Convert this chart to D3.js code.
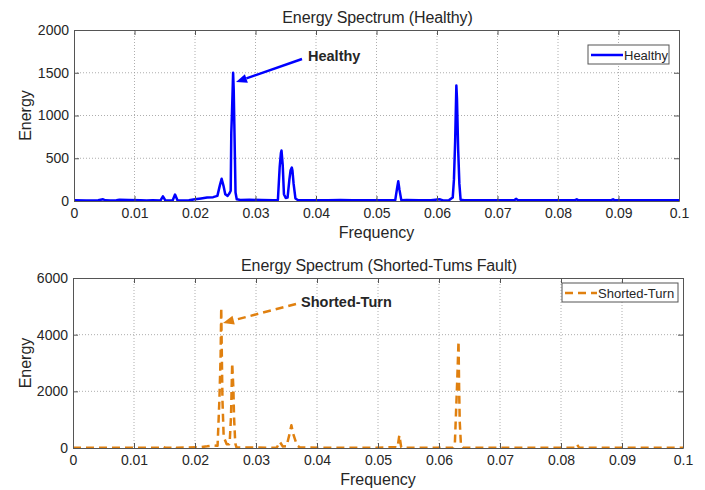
<!DOCTYPE html>
<html>
<head>
<meta charset="utf-8">
<script src="https://cdn.jsdelivr.net/npm/d3@7/dist/d3.min.js"></script>
<style>
  body { margin: 0; background: #fff; }
  svg text { font-family: "Liberation Sans", Arial, sans-serif; fill: #262626; }
</style>
</head>
<body>
<svg id="chart" width="705" height="490"></svg>
<script>
// healthy spectrum
var healthyFreq = [0, 0.002, 0.004, 0.0048, 0.0052, 0.006, 0.007, 0.0075, 0.009, 0.011, 0.012, 0.013,
  0.0143, 0.0147, 0.0151, 0.0163, 0.0167, 0.0171, 0.018, 0.019, 0.020, 0.021, 0.022, 0.023,
  0.0237, 0.0241, 0.0244, 0.0247, 0.0250, 0.0254, 0.0257, 0.0259, 0.0260, 0.0261, 0.0262, 0.0263,
  0.0264, 0.0265, 0.0266, 0.0267, 0.0269, 0.0275, 0.029, 0.031, 0.033, 0.0337, 0.0340, 0.0342,
  0.0343, 0.0345, 0.0347, 0.0350, 0.0353, 0.0356, 0.0358, 0.0360, 0.0361, 0.0363, 0.0366, 0.0370,
  0.038, 0.040, 0.042, 0.044, 0.046, 0.048, 0.050, 0.052, 0.0531, 0.0534, 0.0536, 0.0538, 0.0541,
  0.055, 0.057, 0.059, 0.0605, 0.061, 0.062, 0.0626, 0.0628, 0.0630, 0.0632, 0.0633, 0.0635,
  0.0637, 0.0639, 0.0645, 0.066, 0.068, 0.070, 0.0728, 0.0731, 0.0734, 0.075, 0.078, 0.080,
  0.0828, 0.0831, 0.0834, 0.085, 0.087, 0.0888, 0.0891, 0.0894, 0.092, 0.095, 0.1];
var healthyEnergy = [8, 6, 8, 20, 8, 6, 10, 14, 12, 10, 6, 8,
  6, 55, 6, 6, 75, 8, 5, 8, 20, 30, 40, 45,
  60, 180, 260, 180, 80, 60, 90, 120, 800, 1000, 1250, 1500,
  1300, 900, 500, 100, 20, 12, 14, 12, 10, 12, 400, 560,
  590, 420, 80, 35, 40, 250, 360, 390, 360, 200, 30, 12,
  8, 10, 8, 12, 8, 10, 8, 10, 10, 150, 230, 130, 10,
  12, 8, 10, 20, 6, 10, 40, 250, 700, 1350, 1200, 600,
  200, 15, 10, 8, 10, 8, 10, 25, 8, 10, 8, 10,
  10, 20, 8, 10, 8, 10, 20, 8, 10, 8, 8];

// shorted-turn spectrum
var faultFreq = [0, 0.004, 0.008, 0.012, 0.0143, 0.0147, 0.0151, 0.0162, 0.0166, 0.0170, 0.019, 0.021,
  0.022, 0.023, 0.0235, 0.0237, 0.0240, 0.0242, 0.0243, 0.0244, 0.0245, 0.0247, 0.0252, 0.0256,
  0.0257, 0.0259, 0.0261, 0.0263, 0.0264, 0.0266, 0.0268, 0.030, 0.0334, 0.0339, 0.0344, 0.0350,
  0.0355, 0.0358, 0.0361, 0.0367, 0.0372, 0.045, 0.050, 0.0528, 0.0532, 0.0535, 0.0538, 0.0542,
  0.058, 0.0623, 0.0626, 0.0628, 0.0630, 0.0632, 0.0633, 0.0634, 0.0636, 0.0640, 0.070, 0.078,
  0.0822, 0.0826, 0.0830, 0.090, 0.1];
var faultEnergy = [10, 8, 10, 8, 10, 50, 10, 10, 60, 10, 20, 30,
  60, 95, 80, 80, 1700, 3250, 4950, 3250, 1700, 400, 130, 130,
  250, 1100, 2990, 2050, 1100, 160, 20, 15, 10, 220, 50, 60,
  500, 800, 500, 100, 15, 10, 10, 30, 20, 450, 30, 10,
  10, 10, 150, 1300, 2450, 3770, 2100, 920, 100, 10, 8, 10,
  5, 130, 5, 10, 10];

var xTicks = [0, 0.01, 0.02, 0.03, 0.04, 0.05, 0.06, 0.07, 0.08, 0.09, 0.1];
var healthyTicks = [0, 500, 1000, 1500, 2000];
var faultTicks = [0, 2000, 4000, 6000];

var svg = d3.select('#chart');
var blue = '#0000ff';
var orange = '#e0800f';

function drawPanel(p) {
  var x = d3.scaleLinear().domain([0, 0.1]).range([p.left, p.right]);
  var y = d3.scaleLinear().domain([0, p.ymax]).range([p.bottom, p.top]);
  var g = svg.append('g');

  // dotted grid
  g.selectAll('.vg').data(xTicks.slice(1, -1)).enter().append('line')
    .attr('x1', function (d) { return x(d); }).attr('x2', function (d) { return x(d); })
    .attr('y1', p.top).attr('y2', p.bottom)
    .attr('stroke', '#999').attr('stroke-width', 0.8).attr('stroke-dasharray', '1,2');
  g.selectAll('.hg').data(p.yticks.slice(1, -1)).enter().append('line')
    .attr('x1', p.left).attr('x2', p.right)
    .attr('y1', function (d) { return y(d); }).attr('y2', function (d) { return y(d); })
    .attr('stroke', '#999').attr('stroke-width', 0.8).attr('stroke-dasharray', '1,2');

  // data line
  var id = 'clip' + p.name;
  svg.append('clipPath').attr('id', id).append('rect')
    .attr('x', p.left).attr('y', p.top).attr('width', p.right - p.left).attr('height', p.bottom - p.top);
  var line = d3.line().x(function (d) { return x(d[0]); }).y(function (d) { return y(d[1]); });
  g.append('path')
    .datum(d3.zip(p.freq, p.energy))
    .attr('clip-path', 'url(#' + id + ')')
    .attr('d', line)
    .attr('fill', 'none')
    .attr('stroke', p.color)
    .attr('stroke-width', 2.5)
    .attr('stroke-linejoin', 'round')
    .attr('stroke-dasharray', p.dash);

  // axes, ticks inside on all four sides
  var tl = 5;
  var axB = g.append('g').attr('transform', 'translate(0,' + p.bottom + ')')
    .call(d3.axisBottom(x).tickValues(xTicks).tickSizeInner(-tl).tickSizeOuter(0).tickPadding(7)
      .tickFormat(function (d) { return d === 0 ? '0' : d3.format('~g')(d); }));
  var axT = g.append('g').attr('transform', 'translate(0,' + p.top + ')')
    .call(d3.axisTop(x).tickValues(xTicks).tickSizeInner(-tl).tickSizeOuter(0).tickFormat(''));
  var axL = g.append('g').attr('transform', 'translate(' + p.left + ',0)')
    .call(d3.axisLeft(y).tickValues(p.yticks).tickSizeInner(-tl).tickSizeOuter(0).tickPadding(5)
      .tickFormat(d3.format('d')));
  var axR = g.append('g').attr('transform', 'translate(' + p.right + ',0)')
    .call(d3.axisRight(y).tickValues(p.yticks).tickSizeInner(-tl).tickSizeOuter(0).tickFormat(''));
  [axB, axT, axL, axR].forEach(function (a) {
    a.select('.domain').attr('stroke', '#555').attr('stroke-width', 1);
    a.selectAll('.tick line').attr('stroke', '#555');
    a.selectAll('text').style('font-size', '14px').attr('fill', '#262626');
  });

  // titles
  svg.append('text').attr('x', (p.left + p.right) / 2 + 1).attr('y', p.top - 7)
    .attr('text-anchor', 'middle').style('font-size', '16px').style('letter-spacing', '-0.1px')
    .text(p.title);
  svg.append('text').attr('x', (p.left + p.right) / 2).attr('y', p.bottom + 37)
    .attr('text-anchor', 'middle').style('font-size', '16px').text('Frequency');
  svg.append('text')
    .attr('transform', 'translate(' + 31 + ',' + ((p.top + p.bottom) / 2) + ') rotate(-90)')
    .attr('text-anchor', 'middle').style('font-size', '16px').text('Energy');

  // legend
  var lg = svg.append('g');
  lg.append('rect').attr('x', p.legend[0]).attr('y', p.legend[1]).attr('width', p.legend[2]).attr('height', 19)
    .attr('fill', '#fff').attr('stroke', '#555').attr('stroke-width', 1);
  lg.append('line').attr('x1', p.legend[0] + 3).attr('x2', p.legend[0] + 35)
    .attr('y1', p.legend[1] + 10).attr('y2', p.legend[1] + 10)
    .attr('stroke', p.color).attr('stroke-width', 2.5).attr('stroke-dasharray', p.dash);
  lg.append('text').attr('x', p.legend[0] + 36).attr('y', p.legend[1] + 14.5)
    .style('font-size', '13px').text(p.name);

  // annotation arrow
  var a = p.arrow;
  var ang = Math.atan2(a.y2 - a.y1, a.x2 - a.x1);
  var hl = 11, hw = 4.5;
  var bx = a.x2 - hl * Math.cos(ang), by = a.y2 - hl * Math.sin(ang);
  svg.append('line').attr('x1', a.x1).attr('y1', a.y1).attr('x2', bx).attr('y2', by)
    .attr('stroke', p.color).attr('stroke-width', 2.5).attr('stroke-dasharray', p.dash);
  svg.append('path')
    .attr('d', 'M' + a.x2 + ',' + a.y2 +
      'L' + (bx + hw * Math.sin(ang)) + ',' + (by - hw * Math.cos(ang)) +
      'L' + (bx - hw * Math.sin(ang)) + ',' + (by + hw * Math.cos(ang)) + 'Z')
    .attr('fill', p.color);
  svg.append('text').attr('x', a.tx).attr('y', a.ty)
    .style('font-size', '14.5px').style('font-weight', 'bold').attr('fill', '#111')
    .text(a.label);
}

drawPanel({
  name: 'Healthy', title: 'Energy Spectrum (Healthy)',
  left: 74, right: 679, top: 30, bottom: 201, ymax: 2000, yticks: healthyTicks,
  freq: healthyFreq, energy: healthyEnergy, color: blue, dash: null,
  legend: [588, 45, 81],
  arrow: { x1: 302, y1: 59, x2: 236, y2: 82, tx: 308, ty: 61, label: 'Healthy' }
});

drawPanel({
  name: 'Shorted-Turn', title: 'Energy Spectrum (Shorted-Tums Fault)',
  left: 73, right: 683, top: 278, bottom: 448, ymax: 6000, yticks: faultTicks,
  freq: faultFreq, energy: faultEnergy, color: orange, dash: '8,5',
  legend: [562, 283, 116],
  arrow: { x1: 296, y1: 304, x2: 223, y2: 323, tx: 301, ty: 307, label: 'Shorted-Turn' }
});
</script>
</body>
</html>
